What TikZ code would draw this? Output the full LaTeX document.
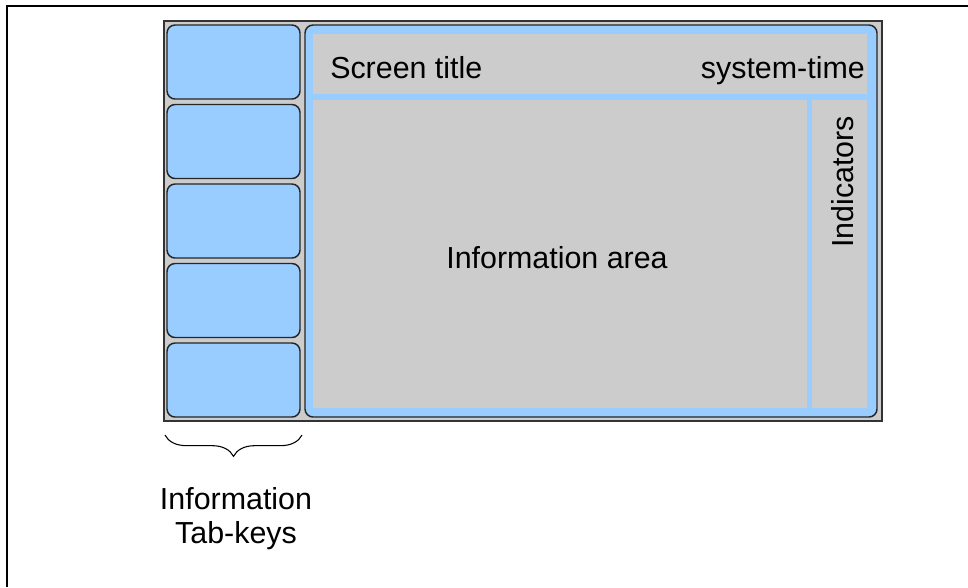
\documentclass[tikz,border=0pt]{standalone}
\usepackage{xcolor}
\usepackage{fontspec}
\setmainfont{Liberation Sans}
\usepackage{tikz}
\usetikzlibrary{decorations.pathreplacing}
\definecolor{keyblue}{HTML}{99CCFF}
\definecolor{panelgray}{HTML}{CCCCCC}
\begin{document}
\begin{tikzpicture}[x=0.75pt,y=0.75pt,yscale=-1,xscale=1,
    box/.style={anchor=north west,inner sep=0pt,outer sep=0pt},
    tabkey/.style={box,draw=black!85,line width=1.1pt,fill=keyblue,rounded corners=6pt,minimum width=99.75pt,minimum height=55.5pt},
    label/.style={inner sep=0pt,font=\fontsize{22.8}{25}\selectfont}]
        \useasboundingbox (0,0) rectangle (968,587);
        \draw [line width=0.9pt] (7,587) -- (7,6) -- (968,6) ;
        % outer frame of the screen
        \node (screen) [box,draw=black!80,line width=1.3pt,fill=panelgray,minimum width=538.5pt,minimum height=300pt] at (164,21) {};
        % tab keys
        \foreach \i in {0,...,4}
            \node (key\i) [tabkey] at (167,25+79.5*\i) {};
        % main panel
        \node (panel) [box,draw=black!85,line width=1.1pt,fill=keyblue,rounded corners=6pt,minimum width=429pt,minimum height=294pt] at (305,25) {};
        \node (titlebar) [box,fill=panelgray,minimum width=415.5pt,minimum height=45pt] at (313,34) {};
        \node (infoarea) [box,fill=panelgray,minimum width=370.5pt,minimum height=231pt] at (313,100) {};
        \node (indbar) [box,fill=panelgray,minimum width=41.25pt,minimum height=231pt] at (812,100) {};
        % texts
        \node (title) [label,anchor=base west] at (330,78) {Screen title};
        \node (systime) [label,anchor=base east] at (865,78) {system-time};
        \node (info) [label,anchor=base] at (557,268) {Information area};
        \node (ind) [label,anchor=base,rotate=90] at (853,182) {Indicators};
        % brace under the tab keys
        \coordinate (bl) at (165,435);
        \coordinate (br) at (302,435);
        \draw [decorate,decoration={brace,amplitude=16pt,mirror},line width=0.8pt] (bl) -- (br) ;
        \node (tabs) [label,anchor=base,align=center] at (236,543) {Information\\Tab-keys};
    \end{tikzpicture}
\end{document}
